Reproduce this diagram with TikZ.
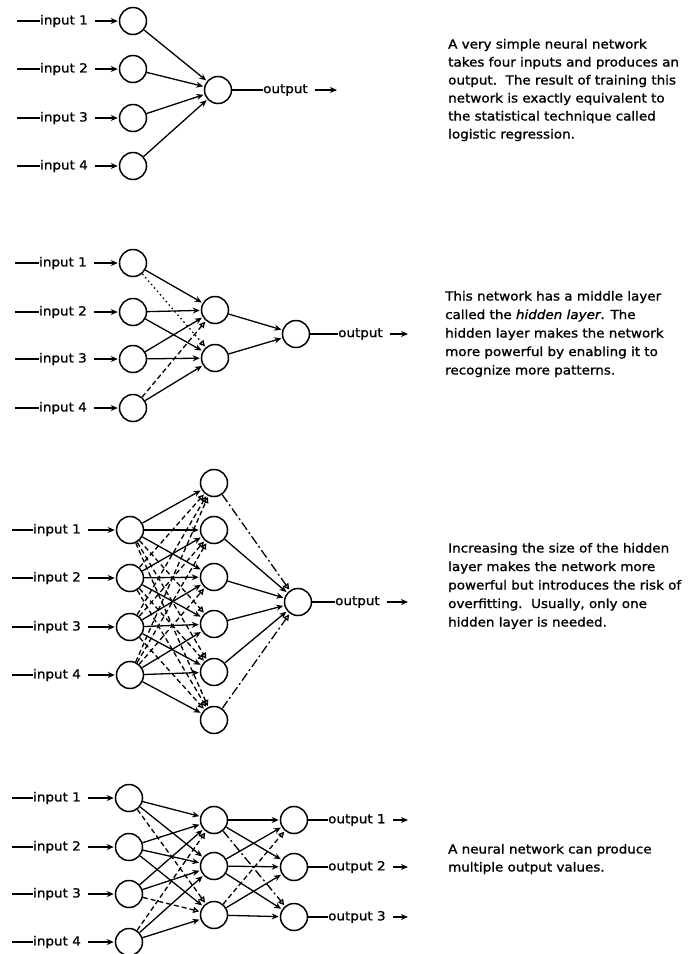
\documentclass[tikz,border=0pt]{standalone}
\usepackage{fontspec}
\setmainfont{DejaVu Sans}[FakeStretch=1.08,FakeBold=1.2]
\usetikzlibrary{arrows.meta}
\tikzset{
  neuron/.style={circle, draw, line width=1.5pt, minimum size=27pt, inner sep=0pt},
  lbl/.style={font=\fontsize{12.5}{15}\selectfont, inner sep=0pt, anchor=west},
  txtline/.style={font=\fontsize{12.5}{15}\selectfont, inner sep=0pt, anchor=base west},
  wire/.style={line width=1.3pt},
  conn/.style={wire, -{Stealth[length=7pt,width=6pt]}, shorten >=1pt},
  dconn/.style={wire, dash pattern=on 5pt off 3pt, -{Triangle[open,length=6pt,width=6pt]}, shorten >=1pt},
  dotconn/.style={wire, dash pattern=on 1.5pt off 3pt, -{Triangle[open,length=6pt,width=6pt]}, shorten >=1pt},
  ddconn/.style={wire, dash pattern=on 9pt off 3pt on 2pt off 3pt, -{Triangle[open,length=6pt,width=6pt]}, shorten >=1pt},
  outarrow/.style={wire, -{Stealth[length=7pt,width=6pt]}, shorten <=7pt},
  inarrow/.style={wire, -{Stealth[length=7pt,width=6pt]}, shorten <=7pt, shorten >=1pt}
}
\begin{document}
\begin{tikzpicture}[x=1pt,y=-1pt]
\useasboundingbox (0,0) rectangle (689,954);

% ---------------- Panel 1 ----------------
\foreach \i/\y in {1/21,2/69,3/118,4/166} {
  \node[neuron] (p1i\i) at (133,\y) {};
  \node[lbl] (p1l\i) at (40,\y) {input \i};
  \coordinate (p1s\i) at (17,\y);
  \draw[wire] (p1s\i) -- (p1l\i.west);
  \draw[inarrow] (p1l\i) -- (p1i\i);
}
\node[neuron] (p1o) at (218,90) {};
\foreach \i in {1,...,4} \draw[conn] (p1i\i) -- (p1o);
\node[lbl] (p1ol) at (263,90) {output};
\coordinate (p1oe) at (337,90);
\draw[wire] (p1o) -- (p1ol.west);
\draw[outarrow] (p1ol) -- (p1oe);

\node[txtline] (t11) at (448,48.5) {A very simple neural network};
\node[txtline] (t12) at (448,66.5) {takes four inputs and produces an};
\node[txtline] (t13) at (448,84.5) {output.\ \ The result of training this};
\node[txtline] (t14) at (448,102.5) {network is exactly equivalent to};
\node[txtline] (t15) at (448,120.5) {the statistical technique called};
\node[txtline] (t16) at (448,138.5) {logistic regression.};

% ---------------- Panel 2 ----------------
\foreach \i/\y in {1/263,2/312,3/359,4/408} {
  \node[neuron] (p2i\i) at (133,\y) {};
  \node[lbl] (p2l\i) at (39,\y) {input \i};
  \coordinate (p2s\i) at (15,\y);
  \draw[wire] (p2s\i) -- (p2l\i.west);
  \draw[inarrow] (p2l\i) -- (p2i\i);
}
\node[neuron] (p2h1) at (215,310) {};
\node[neuron] (p2h2) at (215,358) {};
\node[neuron] (p2o) at (296,334) {};
\draw[conn] (p2i1) -- (p2h1);
\draw[dotconn] (p2i1) -- (p2h2);
\draw[conn] (p2i2) -- (p2h1);
\draw[conn] (p2i2) -- (p2h2);
\draw[conn] (p2i3) -- (p2h1);
\draw[conn] (p2i3) -- (p2h2);
\draw[dconn] (p2i4) -- (p2h1);
\draw[conn] (p2i4) -- (p2h2);
\draw[conn] (p2h1) -- (p2o);
\draw[conn] (p2h2) -- (p2o);
\node[lbl] (p2ol) at (338,334) {output};
\coordinate (p2oe) at (408,334);
\draw[wire] (p2o) -- (p2ol.west);
\draw[outarrow] (p2ol) -- (p2oe);

\node[txtline] (t21) at (445,300.5) {This network has a middle layer};
\node[txtline] (t22) at (445,319) {called the \textit{hidden layer}. The};
\node[txtline] (t23) at (445,337.5) {hidden layer makes the network};
\node[txtline] (t24) at (445,356) {more powerful by enabling it to};
\node[txtline] (t25) at (445,374.5) {recognize more patterns.};

% ---------------- Panel 3 ----------------
\foreach \i/\y in {1/530,2/578,3/627,4/675} {
  \node[neuron] (p3i\i) at (130,\y) {};
  \node[lbl] (p3l\i) at (33,\y) {input \i};
  \coordinate (p3s\i) at (12,\y);
  \draw[wire] (p3s\i) -- (p3l\i.west);
  \draw[inarrow] (p3l\i) -- (p3i\i);
}
\foreach \j/\y in {1/483,2/530,3/577,4/624,5/672,6/720} {
  \node[neuron] (p3h\j) at (214,\y) {};
}
\node[neuron] (p3o) at (298,602) {};
\foreach \i in {1,...,4} {
  \foreach \j in {1,...,6} {
    \pgfmathtruncatemacro\dd{\j-\i}
    \ifnum\dd<0 \draw[dconn] (p3i\i) -- (p3h\j);
    \else\ifnum\dd>2 \draw[dconn] (p3i\i) -- (p3h\j);
    \else \draw[conn] (p3i\i) -- (p3h\j);
    \fi\fi
  }
}
\draw[ddconn] (p3h1) -- (p3o);
\foreach \j in {2,...,5} \draw[conn] (p3h\j) -- (p3o);
\draw[ddconn] (p3h6) -- (p3o);
\node[lbl] (p3ol) at (335,602) {output};
\coordinate (p3oe) at (408,602);
\draw[wire] (p3o) -- (p3ol.west);
\draw[outarrow] (p3ol) -- (p3oe);

\node[txtline] (t31) at (448,552.5) {Increasing the size of the hidden};
\node[txtline] (t32) at (448,571) {layer makes the network more};
\node[txtline] (t33) at (448,589.5) {powerful but introduces the risk of};
\node[txtline] (t34) at (448,608) {overfitting.\ \ Usually, only one};
\node[txtline] (t35) at (448,626.5) {hidden layer is needed.};

% ---------------- Panel 4 ----------------
\foreach \i/\y in {1/798,2/847,3/894,4/942} {
  \node[neuron] (p4i\i) at (129,\y) {};
  \node[lbl] (p4l\i) at (33,\y) {input \i};
  \coordinate (p4s\i) at (12,\y);
  \draw[wire] (p4s\i) -- (p4l\i.west);
  \draw[inarrow] (p4l\i) -- (p4i\i);
}
\foreach \j/\y in {1/820,2/866,3/915} {
  \node[neuron] (p4h\j) at (214,\y) {};
}
\foreach \k/\y in {1/820,2/867,3/917} {
  \node[neuron] (p4o\k) at (294,\y) {};
  \node[lbl] (p4ol\k) at (328,\y) {output \k};
  \coordinate (p4oe\k) at (408,\y);
  \draw[wire] (p4o\k) -- (p4ol\k.west);
  \draw[outarrow] (p4ol\k) -- (p4oe\k);
}
\draw[conn] (p4i1) -- (p4h1);
\draw[conn] (p4i1) -- (p4h2);
\draw[dconn] (p4i1) -- (p4h3);
\draw[conn] (p4i2) -- (p4h1);
\draw[conn] (p4i2) -- (p4h2);
\draw[conn] (p4i2) -- (p4h3);
\draw[conn] (p4i3) -- (p4h1);
\draw[conn] (p4i3) -- (p4h2);
\draw[dconn] (p4i3) -- (p4h3);
\draw[dconn] (p4i4) -- (p4h1);
\draw[conn] (p4i4) -- (p4h2);
\draw[conn] (p4i4) -- (p4h3);
\draw[conn] (p4h1) -- (p4o1);
\draw[conn] (p4h1) -- (p4o2);
\draw[ddconn] (p4h1) -- (p4o3);
\draw[conn] (p4h2) -- (p4o1);
\draw[conn] (p4h2) -- (p4o2);
\draw[conn] (p4h2) -- (p4o3);
\draw[dconn] (p4h3) -- (p4o1);
\draw[conn] (p4h3) -- (p4o2);
\draw[conn] (p4h3) -- (p4o3);

\node[txtline] (t41) at (448,853.5) {A neural network can produce};
\node[txtline] (t42) at (448,871.5) {multiple output values.};
\end{tikzpicture}
\end{document}
